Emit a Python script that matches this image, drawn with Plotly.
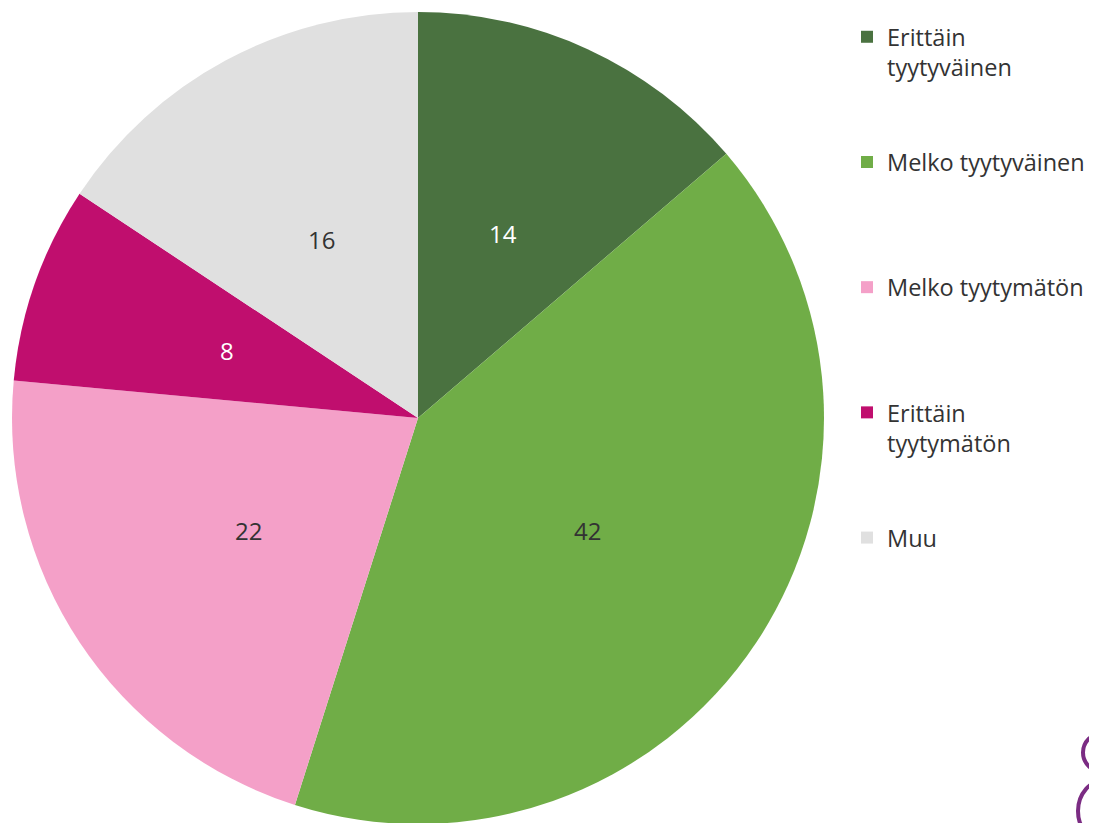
import math
import plotly.graph_objects as go

labels = ["Erittäin tyytyväinen", "Melko tyytyväinen", "Melko tyytymätön", "Erittäin tyytymätön", "Muu"]
legend_labels = ["Erittäin<br>tyytyväinen", "Melko tyytyväinen", "Melko tyytymätön", "Erittäin<br>tyytymätön", "Muu"]
values = [14, 42, 22, 8, 16]
colors = ["#4A7240", "#70AD47", "#F4A0C8", "#C00E6E", "#E0E0E0"]
text_colors = ["#FFFFFF", "#333333", "#333333", "#FFFFFF", "#333333"]

W, H = 1097, 823
# pie geometry (pixels in figure coords)
CX, CY_FROM_BOTTOM, R = 410, 413, 406

pad = "<br>\u00a0"
names = []
for l in legend_labels:
    n_lines = l.count("<br>") + 1
    names.append(l + pad * (4 - n_lines))

fig = go.Figure(go.Pie(
    labels=names,
    values=values,
    sort=False,
    direction="clockwise",
    rotation=0,
    marker=dict(colors=colors, line=dict(width=0)),
    textinfo="none",
    hoverinfo="value",
    domain=dict(x=[(CX - R) / W, (CX + R) / W],
                y=[(CY_FROM_BOTTOM - R) / H, (CY_FROM_BOTTOM + R) / H]),
))

# value labels at half radius, at each slice's mid angle
total = sum(values)
cum = 0
annotations = []
for v, tc in zip(values, text_colors):
    mid = (cum + v / 2) / total * 2 * math.pi
    cum += v
    annotations.append(dict(
        x=(CX + 0.5 * R * math.sin(mid)) / W,
        y=(CY_FROM_BOTTOM + 0.5 * R * math.cos(mid)) / H,
        xref="paper", yref="paper", text=str(v), showarrow=False,
        font=dict(size=24, color=tc, family="Open Sans"),
        xanchor="center", yanchor="middle",
    ))

fig.update_layout(
    width=W, height=H,
    margin=dict(l=0, r=0, t=0, b=0),
    paper_bgcolor="white",
    font=dict(family="Open Sans", size=23.5, color="#333333"),
    annotations=annotations,
    legend=dict(
        x=839 / W, xanchor="left",
        y=1 - 7 / H, yanchor="top",
        valign="top",
        font=dict(size=23.5, color="#333333"),
        bgcolor="rgba(0,0,0,0)",
    ),
    shapes=[
        dict(type="circle", xref="paper", yref="paper",
             x0=1075 / W, x1=1115 / W, y0=1 - 764 / H, y1=1 - 725 / H,
             line=dict(color="#7B2C83", width=4)),
        dict(type="circle", xref="paper", yref="paper",
             x0=1070 / W, x1=1124 / W, y0=1 - 834 / H, y1=1 - 772 / H,
             line=dict(color="#7B2C83", width=4)),
    ],
)

fig.write_html("out.html")
